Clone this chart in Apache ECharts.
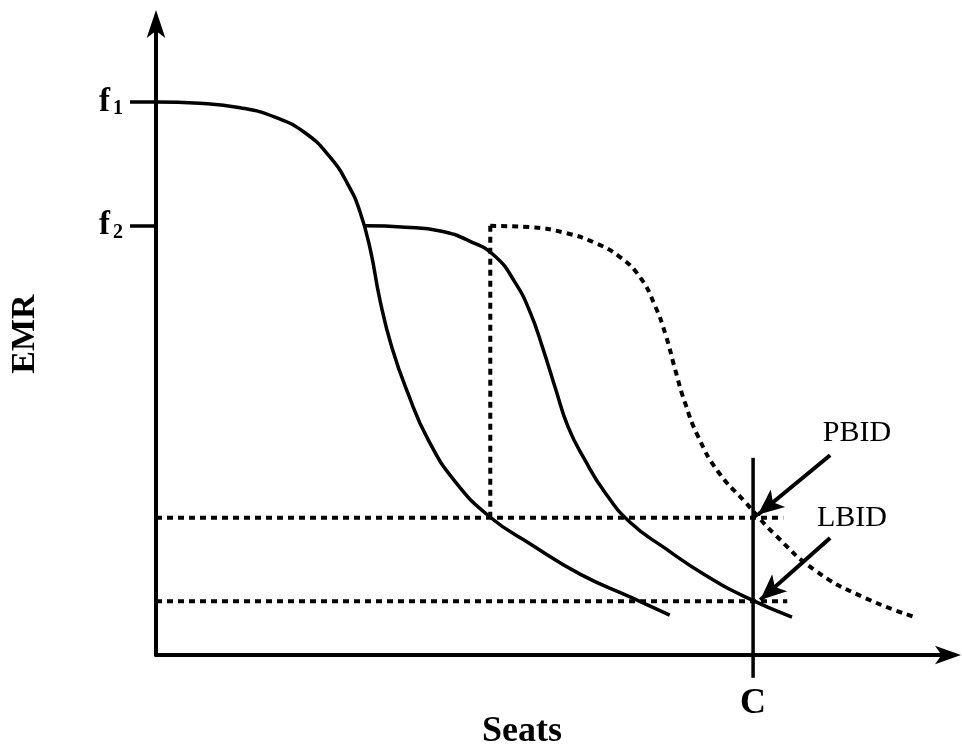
<!DOCTYPE html>
<html>
<head>
<meta charset="utf-8">
<script src="https://cdn.jsdelivr.net/npm/echarts@6/dist/echarts.min.js"></script>
<style>
  html, body { margin: 0; padding: 0; background: #fff; }
  #chart { width: 962px; height: 751px; }
</style>
</head>
<body>
<div id="chart"></div>
<script>
// levels on the EMR axis
var f1 = 87.5, f2 = 67.9;
var pbidLevel = 21.7, lbidLevel = 8.5;
// capacity on the seats axis
var capC = 75.2;

// EMR curves, [seats, EMR]
var curve1 = [[0, 87.5], [5.5, 87.3], [10.6, 86.6], [15.0, 85.1], [18.8, 82.6], [21.9, 78.8],
  [24.2, 74.4], [25.7, 70.1], [27.0, 64.1], [28.2, 56.2], [29.7, 48.7], [31.7, 41.5],
  [34.3, 34.0], [37.7, 27.4], [42.1, 21.8], [47.1, 17.6], [53.4, 12.8], [59.7, 9.2], [64.7, 6.3]];
var curve2 = [[26.3, 67.9], [31.4, 67.7], [35.8, 67.1], [39.5, 65.5], [42.7, 63.1], [45.2, 59.0],
  [47.1, 54.3], [48.7, 48.6], [50.3, 42.2], [51.9, 36.1], [54.0, 30.9], [56.5, 25.8],
  [59.7, 21.0], [64.1, 16.9], [69.1, 12.7], [74.2, 9.2], [80.1, 6.0]];
var curve3 = [[42.1, 67.9], [47.1, 67.7], [51.5, 66.8], [55.3, 65.2], [58.4, 63.0], [61.0, 59.7],
  [62.8, 55.4], [64.2, 50.6], [65.4, 45.1], [66.6, 40.0], [68.3, 34.5], [70.8, 29.0],
  [74.2, 24.2], [78.0, 19.0], [83.0, 13.4], [89.0, 9.2], [95.8, 5.9]];

// dotted guides
var shiftLine = [[42.1, pbidLevel], [42.1, 67.9]];
var pbidLine = [[0, pbidLevel], [79.0, pbidLevel]];
var lbidLine = [[0, lbidLevel], [79.5, lbidLevel]];
var capLine = [[capC, 31.2], [capC, -3.6]];

// pointer arrows [from, to]
var pbidArrow = [[84.9, 31.6], [75.8, 22.2]];
var lbidArrow = [[84.9, 18.5], [76.1, 8.7]];

var serif = 'Liberation Serif';
var chart = echarts.init(document.getElementById('chart'));

function lineSeries(data, dotted, width) {
  return {
    type: 'line',
    data: data,
    symbol: 'none',
    smooth: data.length > 2 ? 0.5 : false,
    silent: true,
    clip: false,
    lineStyle: {
      color: '#000',
      width: width || 3.5,
      type: dotted ? [6, 5] : 'solid',
      cap: 'butt'
    }
  };
}

var capSeries = lineSeries(capLine, false, 3.5);
capSeries.markLine = {
  silent: true,
  symbol: ['none', 'arrow'],
  symbolSize: [17, 26],
  label: { show: false },
  lineStyle: { color: '#000', width: 4, type: 'solid' },
  data: [
    [{ coord: pbidArrow[0] }, { coord: pbidArrow[1] }],
    [{ coord: lbidArrow[0] }, { coord: lbidArrow[1] }]
  ]
};

var option = {
  animation: false,
  backgroundColor: '#fff',
  grid: {
    left: 156, right: 12, top: 23, bottom: 96,
    containLabel: false, outerBoundsMode: 'none'
  },
  xAxis: {
    type: 'value', min: 0, max: 100,
    splitLine: { show: false },
    axisLine: {
      show: true, symbol: ['none', 'arrow'], symbolSize: [14, 26], symbolOffset: [0, 11],
      lineStyle: { color: '#000', width: 4 }
    },
    axisTick: { show: false },
    axisLabel: {
      customValues: [capC],
      formatter: function () { return 'C'; },
      margin: 31,
      color: '#000', fontFamily: serif, fontWeight: 'bold', fontSize: 36
    }
  },
  yAxis: {
    type: 'value', min: 0, max: 100,
    splitLine: { show: false },
    axisLine: {
      show: true, symbol: ['none', 'arrow'], symbolSize: [14, 28], symbolOffset: [0, 13],
      lineStyle: { color: '#000', width: 4 }
    },
    axisTick: { show: true, customValues: [f1, f2], length: 26, lineStyle: { color: '#000', width: 3.5 } },
    axisLabel: {
      customValues: [f1, f2],
      margin: 33,
      formatter: function (v) { return v === f1 ? '{f|f}{s|1}' : '{f|f}{s|2}'; },
      rich: {
        f: { fontFamily: serif, fontWeight: 'bold', fontSize: 33, color: '#000', verticalAlign: 'bottom' },
        s: { fontFamily: serif, fontWeight: 'bold', fontSize: 20, color: '#000', verticalAlign: 'bottom', padding: [0, 0, 0, 3] }
      }
    }
  },
  graphic: [
    { type: 'text', x: 25, y: 334, rotation: Math.PI / 2,
      style: { text: 'EMR', fill: '#000', font: 'bold 34px "Liberation Serif"', textAlign: 'center', textVerticalAlign: 'middle' } },
    { type: 'text', x: 522, y: 732,
      style: { text: 'Seats', fill: '#000', font: 'bold 36px "Liberation Serif"', textAlign: 'center', textVerticalAlign: 'middle' } },
    { type: 'text', x: 857, y: 433,
      style: { text: 'PBID', fill: '#000', font: '30px "Liberation Serif"', textAlign: 'center', textVerticalAlign: 'middle' } },
    { type: 'text', x: 852, y: 518,
      style: { text: 'LBID', fill: '#000', font: '30px "Liberation Serif"', textAlign: 'center', textVerticalAlign: 'middle' } }
  ],
  series: [
    lineSeries(curve1, false),
    lineSeries(curve2, false),
    lineSeries(curve3, true, 4),
    lineSeries(shiftLine, true, 4),
    lineSeries(pbidLine, true, 4),
    lineSeries(lbidLine, true, 4),
    capSeries
  ]
};

chart.setOption(option);
</script>
</body>
</html>
